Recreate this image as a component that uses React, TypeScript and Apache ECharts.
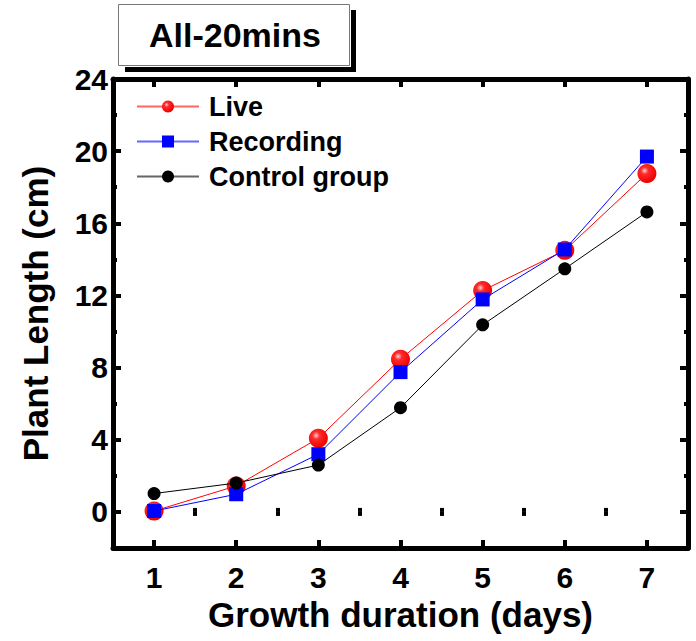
import React, { useEffect, useRef } from "react";
import * as echarts from "echarts";

const days = [1, 2, 3, 4, 5, 6, 7];
const liveValues = [0.05, 1.44, 4.08, 8.47, 12.27, 14.5, 18.76];
const recordingValues = [0.05, 0.98, 3.2, 7.75, 11.78, 14.55, 19.7];
const controlValues = [1.02, 1.6, 2.6, 5.78, 10.37, 13.48, 16.63];

const xMajorTicks = [1, 2, 3, 4, 5, 6, 7];
const xMinorTicks = [1.5, 2.5, 3.5, 4.5, 5.5, 6.5];
const yMajorTicks = [0, 4, 8, 12, 16, 20, 24];
const yMinorTicks = [2, 6, 10, 14, 18, 22];

const titleText = "All-20mins";
const xName = "Growth duration (days)";
const yName = "Plant Length (cm)";

const FONT = "'Liberation Sans', Arial, Helvetica, sans-serif";

export default function App() {
  const ref = useRef<HTMLDivElement>(null);
  useEffect(() => {
    if (!ref.current) return;
    const chart = echarts.init(ref.current, undefined, { renderer: "svg" });
    const X_MIN = 0.5, X_MAX = 7.5, Y_MIN = -2, Y_MAX = 24;
    const axisLine = { show: true, onZero: false, lineStyle: { color: "#000", width: 5 } };
    const mkX = (position: string, ticks: number[], len: number, labels: boolean, line: boolean, name?: string) => ({
      type: "value",
      position,
      min: X_MIN,
      max: X_MAX,
      axisLine: line ? axisLine : { show: false },
      splitLine: { show: false },
      axisTick: { show: true, inside: true, length: len, customValues: ticks, lineStyle: { color: "#000", width: 4 } },
      axisLabel: labels
        ? { show: true, customValues: ticks, margin: 14, color: "#000", fontSize: 30, fontWeight: "bold", fontFamily: FONT }
        : { show: false },
      name: name,
      nameLocation: "middle",
      nameGap: 47,
      nameTextStyle: { color: "#000", fontSize: 35, fontWeight: "bold", fontFamily: FONT },
    });
    const mkY = (position: string, ticks: number[], len: number, labels: boolean, line: boolean, name?: string) => ({
      type: "value",
      position,
      min: Y_MIN,
      max: Y_MAX,
      axisLine: line ? axisLine : { show: false },
      splitLine: { show: false },
      axisTick: { show: true, inside: true, length: len, customValues: ticks, lineStyle: { color: "#000", width: 4 } },
      axisLabel: labels
        ? { show: true, customValues: ticks, margin: 5, color: "#000", fontSize: 30, fontWeight: "bold", fontFamily: FONT }
        : { show: false },
      name: name,
      nameLocation: "middle",
      nameGap: 60,
      nameTextStyle: { color: "#000", fontSize: 35, fontWeight: "bold", fontFamily: FONT },
    });

    const mk = (arr: number[]) => days.map((d, i) => [d, arr[i]]);
    const redGrad = {
      type: "radial",
      x: 0.38,
      y: 0.35,
      r: 0.65,
      colorStops: [
        { offset: 0, color: "#ffd0d0" },
        { offset: 0.3, color: "#ff2a2a" },
        { offset: 1, color: "#ee0000" },
      ],
    };

    chart.setOption({
      animation: false,
      backgroundColor: "#fff",
      grid: { left: 113, right: 8, top: 79, bottom: 93, containLabel: false },
      xAxis: [
        mkX("bottom", xMajorTicks, 8, true, true, xName),
        mkX("bottom", xMinorTicks, 4, false, false),
        mkX("top", xMajorTicks, 8, false, true),
        mkX("top", xMinorTicks, 4, false, false),
      ],
      yAxis: [
        mkY("left", yMajorTicks, 8, true, true, yName),
        mkY("left", yMinorTicks, 4, false, false),
        mkY("right", yMajorTicks, 8, false, true),
        mkY("right", yMinorTicks, 4, false, false),
      ],
      legend: {
        orient: "vertical",
        left: 131,
        top: 88,
        itemWidth: 62,
        itemHeight: 15,
        itemGap: 8,
        textStyle: { color: "#000", fontSize: 27, lineHeight: 26, fontWeight: "bold", fontFamily: FONT, padding: [0, 0, 0, 5] },
        data: [
          { name: "Live", lineStyle: { color: "#ff6666", width: 2 } },
          { name: "Recording", lineStyle: { color: "#6666ff", width: 2 } },
          { name: "Control group", lineStyle: { color: "#666666", width: 2 } },
        ],
      },
      graphic: [
        { type: "rect", shape: { x: 351, y: 10, width: 5, height: 62 }, style: { fill: "#000" } },
        { type: "rect", shape: { x: 125, y: 67, width: 231, height: 5 }, style: { fill: "#000" } },
        { type: "rect", shape: { x: 118.5, y: 4.5, width: 231, height: 61 }, style: { fill: "#fff", stroke: "#777", lineWidth: 1 } },
        {
          type: "text",
          x: 235,
          y: 35,
          style: { text: titleText, fill: "#000", font: `bold 34px ${FONT}`, textAlign: "center", textVerticalAlign: "middle" },
        },
      ],
      series: [
        {
          name: "Live",
          type: "line",
          data: mk(liveValues),
          symbol: "circle",
          symbolSize: 19,
          itemStyle: { color: redGrad },
          lineStyle: { color: "#ff0000", width: 1 },
          z: 3,
        },
        {
          name: "Recording",
          type: "line",
          data: mk(recordingValues),
          symbol: "rect",
          symbolSize: 14,
          itemStyle: { color: "#0000ff" },
          lineStyle: { color: "#0000ff", width: 1 },
          z: 4,
        },
        {
          name: "Control group",
          type: "line",
          data: mk(controlValues),
          symbol: "circle",
          symbolSize: 13,
          itemStyle: { color: "#000" },
          lineStyle: { color: "#000", width: 1 },
          z: 5,
        },
      ],
    });
    return () => chart.dispose();
  }, []);
  return <div ref={ref} style={{ position: "fixed", left: 0, top: 0, width: 696, height: 641 }} />;
}
